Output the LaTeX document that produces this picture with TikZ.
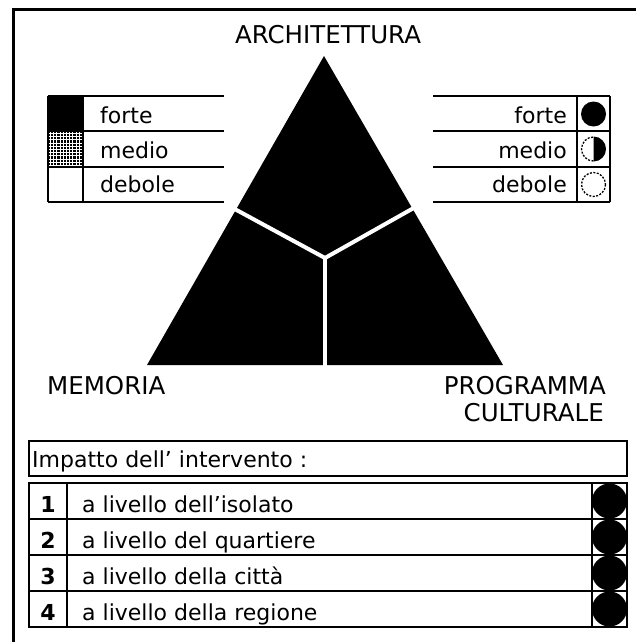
\documentclass[tikz,border=0pt]{standalone}
\usepackage{fontspec}
\setmainfont{DejaVu Sans}
\usetikzlibrary{positioning,calc}
\tikzstyle{txt} = [inner sep=0pt, font=\fontsize{22}{26}\selectfont]
\tikzstyle{corner} = [inner sep=0pt, font=\fontsize{24.5}{28}\selectfont]
\tikzstyle{num} = [inner sep=0pt, font=\fontsize{22}{26}\selectfont\bfseries]
\tikzstyle{rule} = [line width=2pt]
\tikzstyle{cut} = [white, line width=4pt]
\tikzstyle{gridline} = [white, line width=0.9pt]
\tikzstyle{dashcirc} = [dash pattern=on 2pt off 1.5pt, line width=1.3pt]

\begin{document}
\begin{tikzpicture}[x=1pt, y=-1pt]
\useasboundingbox (0,0) rectangle (636,642);
% frame (only top and left show)
\draw [line width=3pt] (13,642) -- (13,10) -- (636,10);

% triangle
\coordinate (top) at (324,56);
\coordinate (bl) at (147,365);
\coordinate (br) at (503,365);
\coordinate (mid) at (325,258);
\fill (top) -- (bl) -- (br) -- cycle;
\draw [cut] (mid) -- (231,207);
\draw [cut] (mid) -- (419,205);
\draw [cut] (mid) -- (325,367);

\node (arch) [corner, anchor=base] at (328,44) {ARCHITETTURA};
\node (mem) [corner, anchor=base west] at (47,394) {MEMORIA};
\node (prog) [corner, anchor=base east] at (606,394) {PROGRAMMA};
\node (cult) [corner, anchor=base east] at (604,421) {CULTURALE};

% left legend
\fill (48,96) rectangle (83,131);
\fill (48,131) rectangle (83,167);
\foreach \x in {50.5,53.7,...,82} \draw [gridline] (\x,131) -- (\x,167);
\foreach \y in {133.5,136.7,...,166} \draw [gridline] (48,\y) -- (83,\y);
\foreach \y in {96,131,167,202} \draw [rule] (48,\y) -- (224,\y);
\draw [rule] (48,96) -- (48,202);
\draw [rule] (83,96) -- (83,202);
\node (lforte) [txt, anchor=base west] at (100,123) {forte};
\node (lmedio) [txt, anchor=base west] at (100,158) {medio};
\node (ldebole) [txt, anchor=base west] at (100,192) {debole};

% right legend
\foreach \y in {96,131,167,202} \draw [rule] (433,\y) -- (610,\y);
\draw [rule] (577,96) -- (577,202);
\draw [rule] (610,96) -- (610,202);
\node (rforte) [txt, anchor=base east] at (567,123) {forte};
\node (rmedio) [txt, anchor=base east] at (567,158) {medio};
\node (rdebole) [txt, anchor=base east] at (567,192) {debole};
\coordinate (c1) at (593.5,114);
\coordinate (c2) at (593.5,149);
\coordinate (c3) at (593.5,184.5);
\fill (c1) circle (12.5);
\fill ($(c2)+(0,12.5)$) arc (90:-90:12.5) -- cycle;
\draw [dashcirc] ($(c2)+(0,12)$) arc (90:270:12);
\draw [dashcirc] (c3) circle (12);

% impact table
\draw [rule] (29,441) rectangle (627,476);
\node (imp) [txt, anchor=base west] at (32,467) {Impatto dell’ intervento :};
\foreach \n/\t in {1/a livello dell’isolato, 2/a livello del quartiere, 3/a livello della città, 4/a livello della regione} {
  \fill (609.5,{465+36*\n}) circle (17.5);
  \node (num\n) [num, anchor=base] at (48,{476+36*\n}) {\n};
  \node (row\n) [txt, anchor=base west] at (82,{476+36*\n}) {\t};
}
\draw [rule] (29,483) rectangle (627,627);
\foreach \y in {519,555,591} \draw [rule] (29,\y) -- (627,\y);
\draw [rule] (67,483) -- (67,627);
\draw [rule] (592,483) -- (592,627);
\end{tikzpicture}
\end{document}
